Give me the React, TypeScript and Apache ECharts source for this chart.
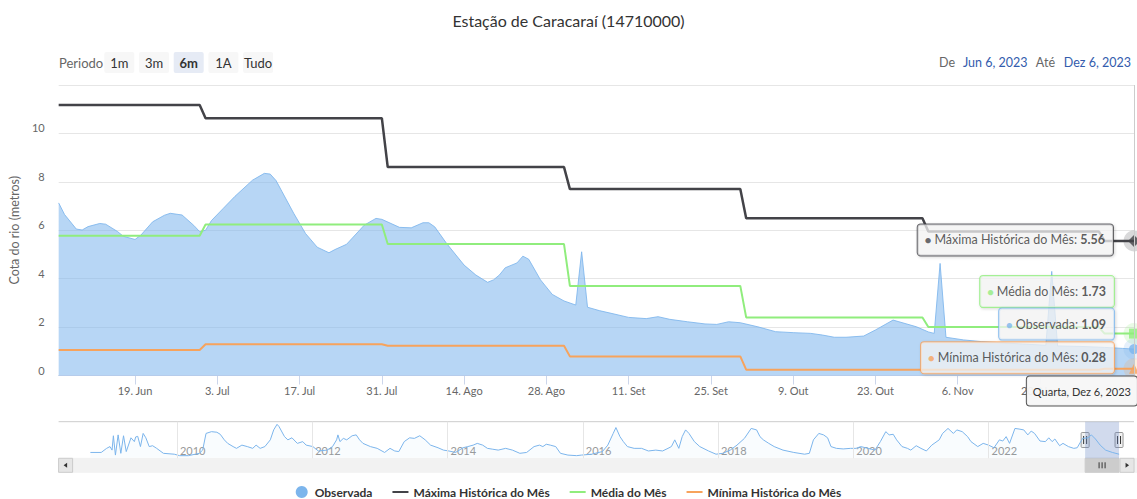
import React, { useEffect, useRef } from 'react';
import * as echarts from 'echarts';

const TITLE = 'Estação de Caracaraí (14710000)';
const Y_AXIS_NAME = 'Cota do rio (metros)';
const SERIES_NAMES = ['Observada', 'Máxima Histórica do Mês', 'Média do Mês', 'Mínima Histórica do Mês'];
const COLORS = ['#7cb5ec', '#434348', '#90ed7d', '#f7a35c'];

const RANGE_START = '2023-06-06';
const RANGE_END = '2023-12-06';

const observedDates = [
  '2023-06-06', '2023-06-07', '2023-06-09', '2023-06-10', '2023-06-11', '2023-06-13', '2023-06-14', '2023-06-16', '2023-06-17', '2023-06-19', '2023-06-20', '2023-06-22', '2023-06-24', '2023-06-25', '2023-06-27', '2023-06-29', '2023-06-30',
  '2023-07-01', '2023-07-02', '2023-07-04', '2023-07-06', '2023-07-09', '2023-07-11', '2023-07-12', '2023-07-13', '2023-07-14', '2023-07-16', '2023-07-18', '2023-07-20', '2023-07-22', '2023-07-23', '2023-07-25', '2023-07-28', '2023-07-30', '2023-07-31',
  '2023-08-03', '2023-08-05', '2023-08-07', '2023-08-08', '2023-08-09', '2023-08-11', '2023-08-14', '2023-08-16', '2023-08-18', '2023-08-19', '2023-08-20', '2023-08-21', '2023-08-23', '2023-08-24', '2023-08-25', '2023-08-27', '2023-08-29', '2023-08-31',
  '2023-09-02', '2023-09-03', '2023-09-04', '2023-09-06', '2023-09-08', '2023-09-11', '2023-09-14', '2023-09-16', '2023-09-18', '2023-09-21', '2023-09-24', '2023-09-26', '2023-09-28', '2023-09-30',
  '2023-10-03', '2023-10-06', '2023-10-09', '2023-10-12', '2023-10-14', '2023-10-16', '2023-10-18', '2023-10-21', '2023-10-23', '2023-10-26', '2023-10-27', '2023-10-30',
  '2023-11-01', '2023-11-02', '2023-11-03', '2023-11-04', '2023-11-07', '2023-11-10', '2023-11-13', '2023-11-17', '2023-11-21', '2023-11-22', '2023-11-23', '2023-11-27',
  '2023-12-01', '2023-12-04', '2023-12-06',
];
const observedValues = [
  7.13, 6.65, 6.05, 6.01, 6.15, 6.28, 6.25, 5.95, 5.75, 5.62, 5.8, 6.35, 6.62, 6.7, 6.63, 6.2, 5.94,
  6.0, 6.4, 6.9, 7.4, 8.07, 8.35, 8.32, 8.05, 7.6, 6.7, 5.87, 5.3, 5.07, 5.2, 5.42, 6.21, 6.49, 6.45,
  6.12, 6.1, 6.31, 6.31, 6.14, 5.46, 4.56, 4.15, 3.85, 3.95, 4.15, 4.45, 4.65, 4.93, 4.8, 3.95, 3.35, 3.08,
  2.91, 5.11, 2.82, 2.68, 2.57, 2.4, 2.35, 2.43, 2.32, 2.22, 2.13, 2.11, 2.22, 2.18,
  2.01, 1.81, 1.77, 1.74, 1.67, 1.58, 1.58, 1.63, 1.88, 2.29, 2.22, 2.01,
  1.8, 1.74, 4.63, 1.58, 1.47, 1.4, 1.36, 1.3, 1.25, 4.3, 1.22, 1.2,
  1.16, 1.12, 1.09,
];

const monthStarts = ['2023-06-06', '2023-07-01', '2023-08-01', '2023-09-01', '2023-10-01', '2023-11-01', '2023-12-01'];
const monthEnds = ['2023-06-30', '2023-07-31', '2023-08-31', '2023-09-30', '2023-10-31', '2023-11-30', '2023-12-06'];
const maxHistorica = [11.17, 10.63, 8.61, 7.7, 6.5, 5.95, 5.56];
const mediaMes = [5.77, 6.24, 5.43, 3.7, 2.4, 2.0, 1.73];
const minHistorica = [1.05, 1.29, 1.23, 0.79, 0.24, 0.24, 0.28];

const xTickDates = ['2023-06-19', '2023-07-03', '2023-07-17', '2023-07-31', '2023-08-14', '2023-08-28', '2023-09-11', '2023-09-25', '2023-10-09', '2023-10-23', '2023-11-06', '2023-11-20'];
const monthAbbr = ['Jan', 'Fev', 'Mar', 'Abr', 'Mai', 'Jun', 'Jul', 'Ago', 'Set', 'Out', 'Nov', 'Dez'];
const weekdays = ['Domingo', 'Segunda', 'Terça', 'Quarta', 'Quinta', 'Sexta', 'Sábado'];

const navYears = [
  2008.72, 2008.88, 2008.96, 2009.01, 2009.04, 2009.06, 2009.09, 2009.13, 2009.17, 2009.21, 2009.25, 2009.32, 2009.37, 2009.39, 2009.42, 2009.46, 2009.5, 2009.54, 2009.59, 2009.64, 2009.7, 2009.8, 2009.96,
  2010.04, 2010.17, 2010.33, 2010.38, 2010.43, 2010.51, 2010.59, 2010.64, 2010.7, 2010.75, 2010.83, 2010.88, 2010.96,
  2011.04, 2011.12, 2011.17, 2011.23, 2011.3, 2011.38, 2011.43, 2011.48, 2011.51, 2011.59, 2011.64, 2011.7, 2011.78, 2011.86, 2011.91,
  2012.01, 2012.09, 2012.22, 2012.3, 2012.36, 2012.38, 2012.41, 2012.46, 2012.51, 2012.59, 2012.65, 2012.7, 2012.75, 2012.86, 2012.96,
  2013.07, 2013.15, 2013.22, 2013.28, 2013.36, 2013.44, 2013.51, 2013.59, 2013.67, 2013.75, 2013.86, 2013.94,
  2014.02, 2014.12, 2014.23, 2014.3, 2014.38, 2014.44, 2014.52, 2014.59, 2014.67, 2014.75, 2014.86, 2014.96,
  2015.07, 2015.17, 2015.28, 2015.36, 2015.41, 2015.46, 2015.52, 2015.6, 2015.67, 2015.78, 2015.91, 2015.98,
  2016.13, 2016.29, 2016.37, 2016.45, 2016.49, 2016.55, 2016.6, 2016.66, 2016.76, 2016.87, 2016.97,
  2017.08, 2017.18, 2017.26, 2017.31, 2017.36, 2017.42, 2017.47, 2017.52, 2017.57, 2017.65, 2017.73, 2017.86, 2017.97,
  2018.07, 2018.18, 2018.28, 2018.39, 2018.49, 2018.57, 2018.62, 2018.67, 2018.75, 2018.83, 2018.96,
  2019.12, 2019.28, 2019.35, 2019.41, 2019.49, 2019.56, 2019.62, 2019.67, 2019.75, 2019.85, 2019.96,
  2020.04, 2020.11, 2020.22, 2020.32, 2020.4, 2020.48, 2020.53, 2020.59, 2020.64, 2020.72, 2020.8, 2020.85, 2020.93,
  2021.0, 2021.08, 2021.16, 2021.27, 2021.32, 2021.4, 2021.48, 2021.53, 2021.61, 2021.69, 2021.74, 2021.84, 2021.92,
  2022.0, 2022.08, 2022.16, 2022.21, 2022.26, 2022.31, 2022.39, 2022.45, 2022.52, 2022.58, 2022.63, 2022.68, 2022.76, 2022.84, 2022.89, 2022.94, 2022.98,
  2023.05, 2023.1, 2023.18, 2023.26, 2023.31, 2023.39, 2023.47, 2023.52, 2023.58, 2023.65, 2023.73, 2023.83, 2023.93,
];
const navLevels = [
  1.7, 1.7, 3.1, 3.7, 2.5, 7.4, 0.8, 7.7, 1.4, 7.4, 2.0, 6.7, 5.4, 7.0, 7.2, 3.7, 8.2, 6.7, 3.7, 4.0, 3.1, 1.4, 1.1,
  0.6, 0.6, 1.4, 2.5, 8.2, 8.8, 8.6, 7.9, 6.0, 4.8, 3.7, 3.1, 4.2,
  3.7, 3.1, 4.2, 3.1, 3.7, 6.0, 9.4, 11.3, 10.5, 7.1, 6.0, 6.7, 4.8, 5.4, 4.2,
  3.7, 2.2, 2.5, 3.7, 6.0, 7.7, 5.4, 6.5, 6.0, 7.4, 7.7, 6.0, 4.8, 3.7, 3.1,
  1.7, 3.1, 2.2, 2.0, 5.4, 6.7, 6.5, 7.4, 6.0, 4.2, 3.3, 2.5,
  2.2, 1.7, 3.3, 3.7, 4.2, 4.8, 4.2, 3.1, 2.8, 2.5, 3.1, 2.5,
  1.4, 1.7, 3.7, 4.2, 3.7, 4.5, 4.2, 3.7, 1.4, 0.8, 0.6, 0.8,
  1.1, 2.0, 4.2, 8.2, 10.2, 7.1, 5.4, 3.7, 3.1, 3.1, 2.2,
  2.5, 2.2, 3.1, 3.7, 6.0, 3.1, 7.1, 9.4, 8.2, 5.4, 3.7, 2.2, 1.1,
  1.4, 2.5, 4.2, 6.5, 9.9, 9.4, 7.1, 6.0, 4.8, 3.7, 2.5,
  1.7, 1.1, 1.4, 6.0, 8.2, 7.7, 6.7, 3.7, 3.1, 2.9, 3.1,
  3.1, 3.7, 3.1, 2.5, 5.4, 8.8, 7.7, 7.9, 6.0, 3.7, 3.1, 2.5, 4.0,
  3.1, 2.2, 4.2, 6.0, 8.2, 9.9, 8.2, 9.4, 8.8, 7.1, 5.4, 3.7, 4.8,
  4.2, 3.3, 6.0, 5.6, 7.1, 4.8, 9.9, 9.7, 9.4, 7.7, 9.0, 8.2, 5.6, 5.4, 6.7, 5.4, 6.3,
  4.0, 4.8, 3.7, 3.1, 3.3, 6.5, 6.7, 7.7, 6.3, 4.2, 2.5, 1.7, 1.1,
];
const navYearTicks = [2010, 2012, 2014, 2016, 2018, 2020, 2022];
const NAV_X_MIN = 2008.25;
const NAV_X_MAX = 2024.15;
const NAV_Y_MIN = -0.3;
const NAV_Y_MAX = 12.2;

const periodButtons = ['1m', '3m', '6m', '1A', 'Tudo'];
const selectedPeriod = '6m';

const FONT = 'Lato, "Open Sans", sans-serif';
// thin horizontal bar inside a 16x12 box (tiny corner marks fix the bounding box)
const LINE_ICON = 'path://M0,5 L16,5 L16,7 L0,7 Z M0,0 L0.01,0 L0,0.01 Z M16,12 L15.99,12 L16,11.99 Z';

const ts = (s: string) => Date.parse(s + 'T00:00:00Z');
const fmtTick = (v: number) => {
  const d = new Date(v);
  return `${d.getUTCDate()}. ${monthAbbr[d.getUTCMonth()]}`;
};
const fmtInput = (s: string) => {
  const d = new Date(ts(s));
  return `${monthAbbr[d.getUTCMonth()]} ${d.getUTCDate()}, ${d.getUTCFullYear()}`;
};
const fmtLong = (v: number) => {
  const d = new Date(v);
  return `${weekdays[d.getUTCDay()]}, ${monthAbbr[d.getUTCMonth()]} ${d.getUTCDate()}, ${d.getUTCFullYear()}`;
};
const toYear = (t: number) => {
  const y = new Date(t).getUTCFullYear();
  const a = Date.UTC(y, 0, 1);
  const b = Date.UTC(y + 1, 0, 1);
  return y + (t - a) / (b - a);
};

const monthly = (vals: number[]) =>
  vals.flatMap((v, i) => [
    [ts(monthStarts[i]), v],
    [ts(monthEnds[i]), v],
  ]);

const tipLabel = (name: string, color: string, value: number, dy: number) => ({
  show: true,
  position: 'left',
  distance: 15,
  offset: [0, dy],
  formatter: `{d|●} {n|${name}: }{v|${value.toFixed(2)}}`,
  backgroundColor: 'rgba(247,247,247,0.9)',
  borderColor: color,
  borderWidth: 1,
  borderRadius: 3,
  padding: [9, 8, 9, 7],
  shadowColor: 'rgba(0,0,0,0.18)',
  shadowBlur: 3,
  shadowOffsetX: 1,
  shadowOffsetY: 1,
  rich: {
    d: { color, fontSize: 11, fontFamily: FONT },
    n: { color: '#333333', fontSize: 12.5, fontFamily: FONT },
    v: { color: '#333333', fontSize: 12.5, fontWeight: 'bold', fontFamily: FONT },
  },
});

export default function App() {
  const ref = useRef<HTMLDivElement>(null);

  useEffect(() => {
    const chart = echarts.init(ref.current!, null, { renderer: 'svg' });
    const startT = ts(RANGE_START);
    const endT = ts(RANGE_END);
    const lastObs = observedValues[observedValues.length - 1];
    const lastMax = maxHistorica[maxHistorica.length - 1];
    const lastMed = mediaMes[mediaMes.length - 1];
    const lastMin = minHistorica[minHistorica.length - 1];

    const option: any = {
      animation: false,
      textStyle: { fontFamily: FONT },
      title: {
        text: TITLE,
        left: 'center',
        top: 7,
        textStyle: { fontFamily: FONT, fontSize: 16, fontWeight: 'normal', color: '#333333' },
      },
      legend: {
        data: [
          { name: SERIES_NAMES[0], icon: 'circle' },
          { name: SERIES_NAMES[1], icon: LINE_ICON },
          { name: SERIES_NAMES[2], icon: LINE_ICON },
          { name: SERIES_NAMES[3], icon: LINE_ICON },
        ],
        left: 'center',
        top: 481,
        itemGap: 20,
        itemWidth: 16,
        itemHeight: 12,
        textStyle: { fontFamily: FONT, fontSize: 12, fontWeight: 'bold', color: '#333333' },
      },
      grid: [
        { left: 58.6, right: 3, top: 85, height: 290.5 },
        { left: 58.6, right: 3, top: 421.7, height: 36.6 },
      ],
      xAxis: [
        {
          type: 'value',
          gridIndex: 0,
          min: startT,
          max: endT,
          splitLine: { show: false },
          axisLine: { show: true, lineStyle: { color: '#ccd6eb' } },
          axisTick: { show: true, customValues: xTickDates.map(ts), length: 9, lineStyle: { color: '#ccd6eb' } },
          axisLabel: {
            customValues: xTickDates.map(ts),
            formatter: (v: number) => fmtTick(v),
            color: '#666666',
            fontSize: 11,
            margin: 9,
            fontFamily: FONT,
          },
          axisPointer: {
            show: true,
            type: 'line',
            value: endT,
            status: 'show',
            snap: false,
            triggerTooltip: false,
            lineStyle: { color: '#cccccc', width: 1, type: 'solid' },
            label: {
              show: true,
              formatter: (p: any) => fmtLong(p.value),
              backgroundColor: 'rgba(247,247,247,0.95)',
              borderColor: '#555555',
              borderWidth: 1,
              color: '#333333',
              fontSize: 11,
              fontFamily: FONT,
              padding: [9, 6],
              margin: 1,
              shadowBlur: 0,
            },
          },
        },
        {
          type: 'value',
          gridIndex: 1,
          min: NAV_X_MIN,
          max: NAV_X_MAX,
          splitLine: { show: false },
          axisLine: { show: false },
          axisTick: { show: false },
          axisLabel: {
            customValues: navYearTicks,
            inside: true,
            align: 'left',
            margin: 2,
            padding: [0, 0, 0, 3],
            color: '#999999',
            fontSize: 11,
            fontFamily: FONT,
            formatter: (v: number) => String(Math.round(v)),
          },
        },
      ],
      yAxis: [
        {
          type: 'value',
          gridIndex: 0,
          min: 0,
          max: 12,
          interval: 2,
          name: Y_AXIS_NAME,
          nameLocation: 'middle',
          nameGap: 34,
          nameRotate: 90,
          nameTextStyle: { color: '#666666', fontSize: 12.5, fontFamily: FONT },
          axisLine: { show: false },
          axisTick: { show: false },
          axisLabel: { color: '#666666', fontSize: 11, margin: 14, verticalAlign: 'bottom', showMaxLabel: false, fontFamily: FONT },
          splitLine: { lineStyle: { color: '#e6e6e6', width: 1 } },
        },
        {
          type: 'value',
          gridIndex: 1,
          min: NAV_Y_MIN,
          max: NAV_Y_MAX,
          show: false,
          splitLine: { show: false },
        },
      ],
      series: [
        {
          name: SERIES_NAMES[0],
          type: 'line',
          xAxisIndex: 0,
          yAxisIndex: 0,
          data: observedDates.map((d, i) => [ts(d), observedValues[i]]),
          symbol: 'none',
          color: COLORS[0],
          lineStyle: { width: 1, color: 'rgba(124,181,236,0.85)' },
          areaStyle: { color: 'rgba(124,181,236,0.55)', opacity: 1 },
          z: 2,
        },
        {
          name: SERIES_NAMES[1],
          type: 'line',
          data: monthly(maxHistorica),
          symbol: 'none',
          color: COLORS[1],
          lineStyle: { width: 2.5, color: COLORS[1] },
          z: 3,
        },
        {
          name: SERIES_NAMES[2],
          type: 'line',
          data: monthly(mediaMes),
          symbol: 'none',
          color: COLORS[2],
          lineStyle: { width: 2, color: COLORS[2] },
          z: 3,
        },
        {
          name: SERIES_NAMES[3],
          type: 'line',
          data: monthly(minHistorica),
          symbol: 'none',
          color: COLORS[3],
          lineStyle: { width: 2, color: COLORS[3] },
          z: 3,
        },
        {
          type: 'scatter',
          silent: true,
          z: 8,
          symbol: 'circle',
          symbolSize: 21,
          data: [
            { value: [endT, lastMax], itemStyle: { color: 'rgba(67,67,72,0.25)' } },
            { value: [endT, lastMed], itemStyle: { color: 'rgba(144,237,125,0.25)' } },
            { value: [endT, lastObs], itemStyle: { color: 'rgba(124,181,236,0.25)' } },
            { value: [endT, lastMin], itemStyle: { color: 'rgba(247,163,92,0.25)' } },
          ],
        },
        {
          type: 'scatter',
          silent: true,
          z: 10,
          data: [
            { value: [endT, lastMax], symbol: 'diamond', symbolSize: 12, itemStyle: { color: COLORS[1] }, label: tipLabel(SERIES_NAMES[1], COLORS[1], lastMax, -1) },
            { value: [endT, lastMed], symbol: 'rect', symbolSize: 10, itemStyle: { color: COLORS[2] }, label: tipLabel(SERIES_NAMES[2], COLORS[2], lastMed, -42) },
            { value: [endT, lastObs], symbol: 'circle', symbolSize: 10, itemStyle: { color: COLORS[0] }, label: tipLabel(SERIES_NAMES[0], COLORS[0], lastObs, -25) },
            { value: [endT, lastMin], symbol: 'triangle', symbolSize: 10, itemStyle: { color: COLORS[3] }, label: tipLabel(SERIES_NAMES[3], COLORS[3], lastMin, -11) },
          ],
        },
        {
          type: 'line',
          xAxisIndex: 1,
          yAxisIndex: 1,
          data: navYears.map((y, i) => [y, navLevels[i]]),
          symbol: 'none',
          silent: true,
          lineStyle: { width: 1, color: '#7cb5ec' },
          areaStyle: { color: 'rgba(124,181,236,0.06)' },
          markLine: {
            silent: true,
            symbol: 'none',
            label: { show: false },
            lineStyle: { color: '#e6e6e6', width: 1, type: 'solid' },
            data: navYearTicks.map((y) => ({ xAxis: y })),
          },
          markArea: {
            silent: true,
            itemStyle: { color: 'rgba(102,133,194,0.3)' },
            data: [[{ xAxis: toYear(startT) }, { xAxis: toYear(endT) }]],
          },
        },
      ],
    };

    chart.setOption(option);

    const tl = chart.convertToPixel({ gridIndex: 1 }, [NAV_X_MIN, NAV_Y_MAX]) as number[];
    const br = chart.convertToPixel({ gridIndex: 1 }, [NAV_X_MAX, NAV_Y_MIN]) as number[];
    const s0 = chart.convertToPixel({ gridIndex: 1 }, [toYear(startT), NAV_Y_MIN]) as number[];
    const s1 = chart.convertToPixel({ gridIndex: 1 }, [toYear(endT), NAV_Y_MIN]) as number[];
    const navTop = tl[1];
    const navBottom = br[1];
    const navLeft = tl[0];
    const navRight = br[0];
    const sbH = 14;
    const midY = (navTop + navBottom) / 2;

    const handle = (x: number) => ({
      type: 'group',
      children: [
        { type: 'rect', shape: { x: x - 4, y: midY - 7.5, width: 8, height: 15, r: 1 }, style: { fill: '#f2f2f2', stroke: '#999999', lineWidth: 1 } },
        { type: 'line', shape: { x1: x - 1.5, y1: midY - 4, x2: x - 1.5, y2: midY + 4 }, style: { stroke: '#333333', lineWidth: 1 } },
        { type: 'line', shape: { x1: x + 1.5, y1: midY - 4, x2: x + 1.5, y2: midY + 4 }, style: { stroke: '#333333', lineWidth: 1 } },
      ],
    });

    const graphics: any[] = [];
    // range selector
    graphics.push({ type: 'text', style: { text: 'Periodo', x: 59, y: 63, fill: '#666666', font: `13px ${FONT}`, textVerticalAlign: 'middle' } });
    periodButtons.forEach((b, i) => {
      const x = 104.3 + i * 34.7;
      const sel = b === selectedPeriod;
      graphics.push({ type: 'rect', shape: { x, y: 52, width: 30, height: 21, r: 2 }, style: { fill: sel ? '#e6ebf5' : '#f7f7f7' } });
      graphics.push({
        type: 'text',
        style: {
          text: b,
          x: x + 15,
          y: 63,
          fill: '#333333',
          font: `${sel ? 'bold ' : ''}13px ${FONT}`,
          textAlign: 'center',
          textVerticalAlign: 'middle',
        },
      });
    });
    graphics.push({ type: 'text', style: { text: 'De', x: 955, y: 62, fill: '#666666', font: `12.5px ${FONT}`, textAlign: 'right', textVerticalAlign: 'middle' } });
    graphics.push({ type: 'text', style: { text: fmtInput(RANGE_START), x: 963, y: 62, fill: '#335cad', font: `12.5px ${FONT}`, textVerticalAlign: 'middle' } });
    graphics.push({ type: 'text', style: { text: 'Até', x: 1055, y: 62, fill: '#666666', font: `12.5px ${FONT}`, textAlign: 'right', textVerticalAlign: 'middle' } });
    graphics.push({ type: 'text', style: { text: fmtInput(RANGE_END), x: 1131, y: 62, fill: '#335cad', font: `12.5px ${FONT}`, textAlign: 'right', textVerticalAlign: 'middle' } });

    // navigator outline
    graphics.push({ type: 'line', shape: { x1: navLeft, y1: navTop, x2: navRight, y2: navTop }, style: { stroke: '#cccccc', lineWidth: 1 } });
    graphics.push(handle(s0[0]));
    graphics.push(handle(s1[0]));

    // scrollbar
    graphics.push({ type: 'rect', shape: { x: navLeft, y: navBottom, width: navRight - navLeft + 3, height: sbH }, style: { fill: '#f2f2f2', stroke: '#f2f2f2' } });
    graphics.push({ type: 'rect', shape: { x: navLeft, y: navBottom, width: 14, height: sbH }, style: { fill: '#e6e6e6', stroke: '#cccccc', lineWidth: 1 } });
    graphics.push({ type: 'polygon', shape: { points: [[navLeft + 5, navBottom + 7], [navLeft + 8.5, navBottom + 4.5], [navLeft + 8.5, navBottom + 9.5]] }, style: { fill: '#333333' } });
    graphics.push({ type: 'rect', shape: { x: s0[0], y: navBottom, width: s1[0] - s0[0], height: sbH }, style: { fill: '#cccccc', stroke: '#cccccc', lineWidth: 1 } });
    const gx = (s0[0] + s1[0]) / 2;
    [-3, 0, 3].forEach((dx) => {
      graphics.push({ type: 'line', shape: { x1: gx + dx, y1: navBottom + 4, x2: gx + dx, y2: navBottom + 10 }, style: { stroke: '#333333', lineWidth: 1 } });
    });
    graphics.push({ type: 'rect', shape: { x: s1[0] + 1, y: navBottom, width: 14, height: sbH }, style: { fill: '#e6e6e6', stroke: '#cccccc', lineWidth: 1 } });
    graphics.push({ type: 'polygon', shape: { points: [[s1[0] + 10, navBottom + 7], [s1[0] + 6.5, navBottom + 4.5], [s1[0] + 6.5, navBottom + 9.5]] }, style: { fill: '#333333' } });

    chart.setOption({ graphic: graphics });

    return () => chart.dispose();
  }, []);

  return <div ref={ref} style={{ position: 'absolute', left: 0, top: 0, width: 1137, height: 499 }} />;
}
